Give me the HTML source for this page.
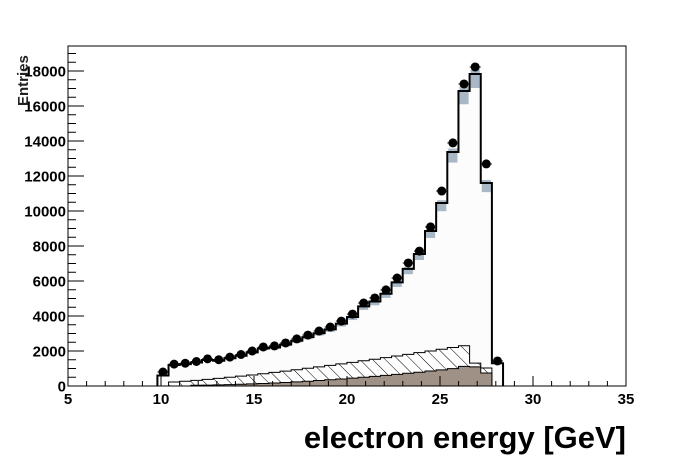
<!DOCTYPE html>
<html><head><meta charset="utf-8"><style>
body{margin:0;background:#fff;}
svg{display:block;font-family:"Liberation Sans",Arial,sans-serif;}
</style></head><body>
<svg id="s" width="696" height="472" xmlns="http://www.w3.org/2000/svg">
<defs>
<pattern id="h" patternUnits="userSpaceOnUse" width="9" height="9" patternTransform="rotate(-45)">
<rect width="9" height="9" fill="#fff"/><line x1="0" y1="0" x2="0" y2="9" stroke="#000" stroke-width="1"/>
</pattern>
</defs>
<g id="g"></g>
</svg>
<script>
const X0=157.4,W=11.15,Y0=386,K=17.5/1000;
const yv=v=>Y0-v*K;
const dat=[800,1250,1300,1400,1550,1500,1650,1800,2000,2230,2290,2460,2690,2910,3140,3370,3710,4110,4740,5030,5490,6170,7030,7710,9090,11140,13890,17260,18230,12690,1430];
const m=[];for(let i=0;i<31;i++)m.push(dat[i]*0.96);
m[0]=600;m[22]=6690;m[23]=7540;m[24]=8860;m[25]=10460;m[26]=13370;m[27]=16860;m[28]=17830;m[29]=11600;m[30]=1300;
const hat=[],brn=[];
for(let i=0;i<31;i++){let t=i/27;hat.push(i==0?0:200+2100*Math.pow(t,1.3));brn.push(i<3?0:40+1100*Math.pow((i-2)/26,1.8));}
hat[28]=1310;hat[29]=1030;hat[30]=0;brn[27]=1120;brn[28]=1090;brn[29]=740;brn[30]=0;
let s='';
s+='<rect x="68" y="46" width="558" height="340" fill="#fff"/>';
let p='M'+X0+','+Y0;
for(let i=0;i<31;i++){p+=' L'+(X0+i*W)+','+yv(m[i])+' L'+(X0+(i+1)*W)+','+yv(m[i]);}
p+=' L'+(X0+31*W)+','+Y0+' Z';
s+='<path d="'+p+'" fill="#fcfcfc" stroke="none"/>';
function area(v,f){let q='M'+X0+','+Y0;for(let i=0;i<31;i++){q+=' L'+(X0+i*W)+','+yv(v[i])+' L'+(X0+(i+1)*W)+','+yv(v[i]);}q+=' L'+(X0+31*W)+','+Y0+' Z';return '<path d="'+q+'" fill="'+f+'" stroke="#000" stroke-width="1"/>';}
s+=area(hat,'url(#h)');
s+=area(brn,'#a09186');
for(let i=0;i<31;i++){if(m[i]<1500)continue;let x=X0+i*W+1;let y1=yv(m[i]*1.015),y2=yv(m[i]*0.955);s+='<rect x="'+x+'" y="'+y1+'" width="'+(W-2)+'" height="'+(y2-y1)+'" fill="#a8b8c6"/>';}
let l='M'+X0+','+Y0;for(let i=0;i<31;i++){l+=' L'+(X0+i*W)+','+yv(m[i])+' L'+(X0+(i+1)*W)+','+yv(m[i]);}l+=' L'+(X0+31*W)+','+Y0;
s+='<path d="'+l+'" fill="none" stroke="#000" stroke-width="2"/>';
for(let i=0;i<31;i++){let cx=X0+(i+0.5)*W,cy=yv(dat[i]);s+='<circle cx="'+cx+'" cy="'+cy+'" r="4.5" fill="#000"/><line x1="'+(cx-5.5)+'" x2="'+(cx+5.5)+'" y1="'+cy+'" y2="'+cy+'" stroke="#000"/>';}
s+='<rect x="68" y="46" width="558" height="340" fill="none" stroke="#000" stroke-width="1"/>';
for(let v=5;v<=35;v+=1){let x=68+(v-5)*18.6;let len=v%5==0?10:5;s+='<line x1="'+x+'" x2="'+x+'" y1="386" y2="'+(386-len)+'" stroke="#000"/>';if(v%5==0)s+='<text x="'+x+'" y="404" font-size="15" font-weight="bold" text-anchor="middle">'+v+'</text>';}
for(let v=0;v<=19000;v+=500){let y=yv(v);if(y<46)break;let len=v%2000==0?16:8;s+='<line x1="68" x2="'+(68+len)+'" y1="'+y+'" y2="'+y+'" stroke="#000"/>';if(v%2000==0)s+='<text x="66" y="'+(y+5.5)+'" font-size="15" font-weight="bold" text-anchor="end">'+v+'</text>';}
s+='<text x="626" y="448" font-size="31" font-weight="bold" text-anchor="end">electron energy [GeV]</text>';
s+='<text transform="translate(28,106) rotate(-90)" font-size="15" font-weight="bold" fill="#222">Entries</text>';
document.getElementById('g').innerHTML=s;
</script>
</body></html>
